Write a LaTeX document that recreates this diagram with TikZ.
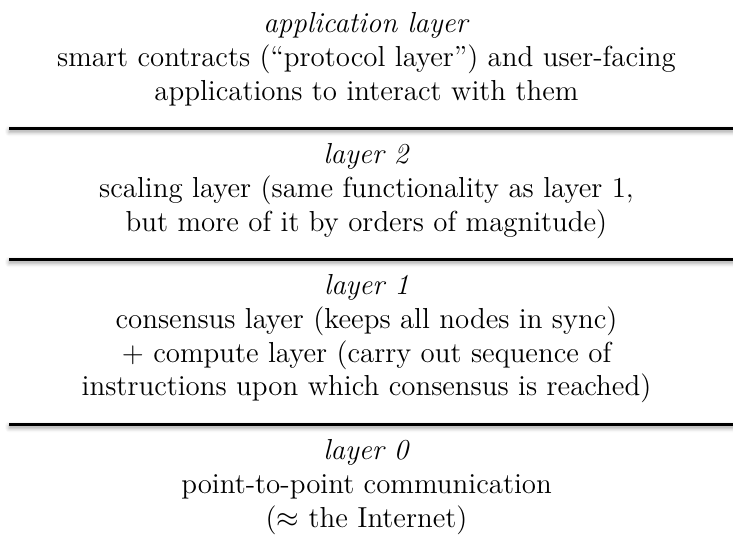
\documentclass[tikz,border=0pt]{standalone}
\usetikzlibrary{shadows.blur}
\begin{document}
% Coordinates are in pixel-like units, y growing downward.
\begin{tikzpicture}[x=0.415pt, y=-0.415pt,
  layertext/.style={anchor=north, align=center, inner sep=0pt,
      font=\fontsize{12}{14}\selectfont},
  rulebar/.style={fill=black, blur shadow={shadow xshift=0pt, shadow yshift=-1.2pt,
      shadow blur radius=1.6pt, shadow opacity=35}}]
\useasboundingbox (0,0) rectangle (733,536);

% layer descriptions
\node[layertext] (app) at (366.5,12)
  {\textit{application layer}\\
   smart contracts (``protocol layer'') and user-facing\\
   applications to interact with them};
\node[layertext] (ltwo) at (366.5,143)
  {\textit{layer 2}\\
   scaling layer (same functionality as layer 1,\\
   but more of it by orders of magnitude)};
\node[layertext] (lone) at (366.5,274)
  {\textit{layer 1}\\
   consensus layer (keeps all nodes in sync)\\
   $+$ compute layer (carry out sequence of\\
   instructions upon which consensus is reached)};
\node[layertext] (lzero) at (366.5,439)
  {\textit{layer 0}\\
   point-to-point communication\\
   ($\approx$ the Internet)};

% separating rules with soft shadows
\path[rulebar] (9,126.5) rectangle (745,129.5);
\path[rulebar] (9,257.5) rectangle (745,260.5);
\path[rulebar] (9,422.5) rectangle (745,425.5);
\end{tikzpicture}
\end{document}
